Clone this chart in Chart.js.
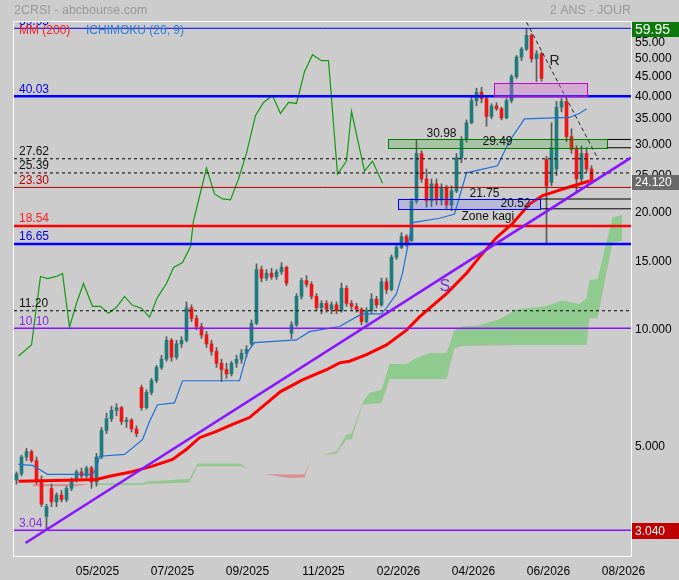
<!DOCTYPE html>
<html>
<head>
<meta charset="utf-8">
<script src="https://cdn.jsdelivr.net/npm/chart.js@4.4.1/dist/chart.umd.min.js"></script>
<style>
html, body { margin: 0; padding: 0; background: #cccccc; }
#wrap { width: 679px; height: 580px; position: relative; }
</style>
</head>
<body>
<div id="wrap"><canvas id="chart"></canvas></div>
<script>
// 2CRSI - 2 ans, bougies journalieres (x = numero de seance)
const monthDay = [16.2, 31.2, 46.2, 61.4, 76.4, 91.4, 106.4, 121.4];
const monthLabel = ['05/2025', '07/2025', '09/2025', '11/2025', '02/2026', '04/2026', '06/2026', '08/2026'];

const opens = [
  4.10, 4.25, 4.70, 4.85, 4.60, 4.10, 3.30, 3.90, 3.60, 3.75,
  3.65, 3.90, 4.10, 4.30, 4.20, 4.40, 4.05, 4.70, 5.50, 5.90,
  6.20, 6.30, 5.80, 5.85, 5.55, 7.10, 6.30, 6.90, 7.40, 8.00,
  8.40, 9.40, 8.50, 9.20, 9.40, 11.40, 10.70, 10.20, 9.70, 9.20,
  8.80, 8.20, 7.90, 7.70, 8.20, 8.40, 8.70, 9.20, 10.40, 14.30,
  13.60, 14.00, 13.70, 14.10, 14.50, 9.80, 10.30, 12.20, 13.40, 13.10,
  12.20, 11.40, 11.70, 11.30, 11.60, 11.20, 12.80, 11.70, 11.50, 11.30,
  10.50, 11.20, 12.00, 11.60, 13.30, 12.70, 15.40, 16.30, 17.40, 17.00,
  21.50, 28.50, 24.50, 21.50, 23.80, 21.60, 23.20, 21.00, 22.80, 27.80,
  31.00, 34.20, 39.00, 41.00, 39.50, 35.50, 37.80, 37.20, 35.20, 39.00,
  45.00, 50.50, 53.00, 57.50, 50.00, 51.50, 27.50, 24.00, 26.00, 37.50,
  38.80, 31.50, 29.20, 24.50, 28.50, 26.00
];
const highs = [
  4.30, 4.75, 4.95, 4.90, 4.70, 4.20, 3.55, 4.00, 3.80, 3.85,
  3.95, 4.15, 4.35, 4.40, 4.45, 4.45, 4.80, 5.60, 6.10, 6.35,
  6.45, 6.35, 5.95, 5.90, 5.65, 7.20, 7.00, 7.50, 8.10, 8.60,
  9.60, 9.50, 9.40, 9.60, 11.80, 11.60, 10.90, 10.40, 9.90, 9.40,
  9.00, 8.40, 8.20, 8.30, 8.60, 8.90, 9.10, 10.60, 14.80, 14.60,
  14.30, 14.40, 14.30, 14.90, 14.60, 10.50, 12.40, 13.60, 13.80, 13.30,
  12.40, 11.90, 11.90, 11.80, 11.80, 13.20, 13.00, 11.90, 11.70, 11.40,
  11.40, 12.40, 12.20, 13.60, 13.60, 15.60, 16.50, 17.80, 17.60, 21.80,
  30.98, 29.00, 26.00, 24.50, 24.50, 23.80, 23.60, 23.50, 28.50, 31.50,
  34.80, 40.00, 42.00, 42.20, 40.00, 38.30, 38.50, 37.50, 39.50, 45.50,
  51.00, 53.50, 59.95, 58.00, 52.50, 52.00, 28.00, 34.20, 38.80, 39.50,
  39.20, 33.00, 29.80, 29.80, 29.50, 26.50
];
const lows = [
  4.00, 4.20, 4.60, 4.55, 4.00, 3.50, 3.04, 3.50, 3.50, 3.60,
  3.60, 3.85, 4.05, 4.15, 4.15, 3.90, 3.95, 4.65, 5.40, 5.80,
  6.00, 5.70, 5.60, 5.45, 5.30, 6.20, 6.25, 6.80, 7.30, 7.90,
  8.30, 8.30, 8.40, 9.00, 9.30, 10.50, 10.00, 9.50, 9.00, 8.60,
  8.00, 7.35, 7.50, 7.60, 8.00, 8.20, 8.50, 9.10, 10.30, 13.30,
  13.40, 13.50, 13.50, 13.90, 13.00, 9.50, 10.20, 12.00, 12.90, 12.00,
  11.20, 11.00, 11.10, 11.00, 11.00, 11.10, 11.50, 11.30, 11.10, 10.30,
  10.40, 11.00, 11.40, 11.50, 12.40, 12.60, 15.20, 16.20, 16.40, 16.90,
  21.20, 24.00, 20.70, 20.80, 21.00, 21.00, 20.40, 20.30, 22.60, 27.00,
  30.50, 34.00, 37.80, 38.50, 33.50, 35.00, 36.80, 34.80, 35.00, 38.50,
  44.50, 49.50, 52.50, 49.00, 43.70, 43.80, 16.65, 23.50, 25.00, 36.50,
  30.60, 28.50, 22.60, 24.00, 25.50, 23.80
];
const closes = [
  4.25, 4.70, 4.85, 4.60, 4.10, 3.55, 3.50, 3.60, 3.75, 3.65,
  3.90, 4.10, 4.30, 4.20, 4.40, 4.05, 4.70, 5.50, 5.90, 6.20,
  6.30, 5.80, 5.85, 5.55, 5.40, 6.30, 6.90, 7.40, 8.00, 8.40,
  9.40, 8.50, 9.20, 9.40, 11.40, 10.70, 10.20, 9.70, 9.20, 8.80,
  8.20, 7.90, 7.70, 8.20, 8.40, 8.70, 8.90, 10.40, 14.30, 13.60,
  14.00, 13.70, 14.10, 14.50, 13.20, 10.30, 12.20, 13.40, 13.10, 12.20,
  11.40, 11.70, 11.30, 11.60, 11.20, 12.80, 11.70, 11.50, 11.30, 10.50,
  11.20, 12.00, 11.60, 13.30, 12.70, 15.40, 16.30, 17.40, 16.80, 21.50,
  28.50, 24.50, 21.50, 23.80, 21.60, 23.20, 21.00, 22.80, 27.80, 31.00,
  34.20, 39.00, 41.00, 39.50, 35.50, 37.80, 37.20, 35.20, 39.00, 45.00,
  50.50, 53.00, 57.50, 50.00, 51.50, 44.50, 23.50, 29.50, 37.50, 38.80,
  31.50, 29.20, 24.50, 28.50, 26.00, 24.12
];

// MM 200
const maDay = [0.4, 10, 16, 18.6, 22.6, 27.2, 31.2, 34, 36.6, 40, 43.2, 46.6, 52.8, 57.2, 62, 64.6, 66.6, 70, 74, 78, 80.6, 86, 90, 92.6, 96, 99.2, 102.6, 105.2, 108, 111.2, 114.6];
const maVal = [4.07, 4.09, 4.11, 4.19, 4.29, 4.45, 4.63, 4.92, 5.27, 5.47, 5.70, 5.94, 6.93, 7.43, 7.89, 8.22, 8.30, 8.63, 9.14, 9.98, 10.8, 12.4, 14.0, 15.4, 17.3, 18.8, 21.1, 22.2, 22.8, 23.5, 24.2];

// Ichimoku : kijun, chikou, nuage
const kijunDay = [0.4, 3.2, 4.6, 6.2, 15.2, 16, 16.6, 21.6, 25.2, 26.6, 28.2, 31.6, 33.2, 44.6, 45.2, 46.2, 47.6, 56, 58.6, 64.6, 68, 69.2, 73, 74, 76, 77.2, 78.2, 79.2, 84.6, 87.6, 90, 96.2, 98.6, 101.6, 110.6, 112.6, 114];
const kijunVal = [4.50, 4.47, 4.36, 4.24, 4.24, 4.40, 4.72, 4.77, 5.21, 5.80, 6.41, 6.48, 7.39, 7.39, 7.88, 8.76, 9.27, 9.42, 9.89, 10.2, 10.8, 11.0, 11.0, 11.4, 12.4, 14.0, 16.3, 18.9, 19.4, 19.9, 25.4, 26.5, 30.7, 35.0, 35.3, 36.2, 37.1];

const chikouDay = [0.4, 3.0, 4.8, 6.2, 8.0, 9.2, 10.6, 12.0, 13.4, 15.2, 16.8, 18.4, 20.0, 21.6, 23.2, 25.0, 26.6, 28.2, 30.0, 31.4, 33.2, 34.8, 35.4, 38.0, 39.6, 41.2, 42.8, 44.4, 46.0, 47.8, 49.4, 51.2, 52.8, 54.4, 56.0, 57.6, 59.2, 61.0, 62.4, 64.2, 66.0, 67.0, 69.6, 71.2, 73.2];
const chikouVal = [8.56, 9.14, 13.73, 13.56, 13.73, 13.98, 10.16, 11.71, 13.17, 11.50, 11.50, 11.03, 11.43, 12.20, 11.57, 11.37, 10.78, 12.13, 13.17, 14.48, 14.92, 16.39, 19.11, 26.13, 22.41, 21.76, 21.63, 24.49, 28.55, 35.73, 38.59, 40.22, 36.15, 38.59, 38.36, 46.34, 51.23, 49.45, 49.45, 25.22, 27.24, 36.59, 25.67, 27.24, 23.89];

const cloudDay = [3.2, 12, 14.6, 16.6, 25.2, 26, 34.6, 36.2, 44.6, 46.2, 49.6, 54.6, 57.6, 59, 61, 64, 66, 67, 69.2, 70.6, 73, 74.6, 78, 79.6, 82.6, 86, 87.6, 89.2, 92, 96.6, 100, 106, 109.2, 112.6, 114, 114.6, 116.2, 119.2, 121.2];
const spanA = [3.95, 3.95, 4.00, 4.02, 4.02, 4.06, 4.13, 4.52, 4.52, 4.40, 4.24, 4.15, 4.16, 4.69, 4.74, 4.86, 5.37, 5.40, 6.48, 6.88, 7.00, 8.16, 8.16, 8.41, 8.72, 8.72, 9.98, 10.21, 10.24, 10.65, 11.29, 11.52, 11.90, 11.65, 12.05, 13.43, 13.52, 19.46, 19.80];
const spanB = [4.00, 4.00, 4.00, 3.98, 3.98, 4.00, 4.04, 4.45, 4.45, 4.40, 4.24, 4.24, 4.24, 4.69, 4.74, 4.80, 5.21, 5.21, 6.41, 6.44, 6.48, 7.47, 7.47, 7.47, 7.47, 7.47, 8.97, 9.09, 9.10, 9.12, 9.14, 9.14, 9.14, 9.14, 9.14, 10.71, 10.71, 16.79, 16.97];

// niveaux horizontaux
const levelVal = [59.95, 40.03, 27.62, 25.39, 23.30, 18.54, 16.65, 11.20, 10.10, 3.04];
const levelText = ['59.95', '40.03', '27.62', '25.39', '23.30', '18.54', '16.65', '11.20', '10.10', '3.04'];

// zones (rectangles)
const zoneStart = [74.2, 95.4, 76.2];
const zoneEnd = [118, 114, 104.8];
const zoneLow = [29.49, 40.03, 20.52];
const zoneHigh = [30.98, 43.2, 21.75];

// droites de tendance
const supportDay = [1.8, 122.9];
const supportVal = [2.82, 27.8];
const resistDay = [102, 116.2];
const resistVal = [62.2, 27.75];

// textes poses sur le graphique
const noteText = ['30.98', '29.49', '21.75', '20.52', 'Zone kagi', 'S', 'R'];
const noteDay = [82, 93.2, 90.6, 96.8, 89, 84.6, 106.6];
const noteVal = [31.44, 29.98, 22.01, 20.74, 19.20, 12.59, 48.22];

// axe de droite
const axisTicks = [5, 10, 15, 20, 25, 30, 35, 40, 45, 50, 55];
const axisLabels = ['5.000', '10.000', '15.000', '20.000', '25.000', '30.000', '35.000', '40.000', '45.000', '50.000', '55.00'];
const tagVal = [59.95, 24.12, 3.04];
const tagText = ['59.95', '24.120', '3.040'];

// styles
const FONT = '"Liberation Sans", Arial, Helvetica, sans-serif';
const levelColor = ['#0000ee', '#0000ff', '#000000', '#000000', '#b00000', '#ff0000', '#0000ff', '#000000', '#8a10ff', '#8a10ff'];
const levelWidth = [1, 2.5, 1, 1, 1, 2.5, 2.5, 1, 1.5, 1.5];
const levelDash = [[], [], [3, 3], [3, 3], [], [], [], [3, 3], [], []];
const levelLabelColor = ['#0000ee', '#0000ee', '#111111', '#111111', '#c00000', '#ff2020', '#0000ee', '#111111', '#8a2be2', '#8a2be2'];
const zoneFill = ['rgba(0,160,0,0.18)', 'rgba(225,100,225,0.32)', 'rgba(100,100,255,0.2)'];
const zoneEdge = ['#007a00', '#cc00cc', '#0000ff'];
const zoneExtend = [true, false, true];
const noteColor = ['#111', '#111', '#111', '#111', '#111', '#7a30d6', '#222'];
const noteSize = [12, 12, 12, 12, 12, 16, 14];
const tagBg = ['#0b7a0b', '#6a6a6a', '#c00000'];
const tagSize = [14, 12, 12];
const tagHeight = [15, 15, 16];

const xMin = -0.5, xMax = 122.9;

Chart.defaults.font.family = FONT;
Chart.defaults.font.size = 12;
Chart.defaults.color = '#000';

function pts(xs, ys) { return xs.map((d, i) => ({ x: d, y: ys[i] })); }
function flat(v, a, b) { return [{ x: a, y: v }, { x: b, y: v }]; }
function line(data, color, width, order, dash) {
  return { type: 'line', data, borderColor: color, borderWidth: width, borderDash: dash || [],
    pointRadius: 0, tension: 0, fill: false, order };
}

const datasets = [];
// nuage (rempli entre les deux spans)
datasets.push({ type: 'line', data: pts(cloudDay, spanA), borderColor: 'transparent', borderWidth: 0,
  pointRadius: 0, tension: 0, fill: { target: '+1', above: '#8fca8f', below: '#dd8e8e' }, order: 20 });
datasets.push({ type: 'line', data: pts(cloudDay, spanB), borderColor: 'transparent', borderWidth: 0,
  pointRadius: 0, tension: 0, fill: false, order: 20 });
// bougies : meches puis corps
datasets.push({ type: 'bar', data: highs.map((h, i) => ({ x: i, y: [lows[i], h] })),
  backgroundColor: '#5a5a5a', barThickness: 1, grouped: false, order: 12 });
datasets.push({ type: 'bar', data: opens.map((o, i) => ({ x: i, y: [o, closes[i]] })),
  backgroundColor: opens.map((o, i) => closes[i] >= o ? '#1e7b7b' : '#f01515'),
  barThickness: 3, grouped: false, order: 11 });
datasets.push(line(pts(kijunDay, kijunVal), '#1f6fd6', 1.2, 6));
datasets.push(line(pts(chikouDay, chikouVal), '#129a12', 1.2, 6));
datasets.push(line(pts(maDay, maVal), '#ff0000', 3, 5));
levelVal.forEach((v, i) => datasets.push(line(flat(v, xMin, xMax), levelColor[i], levelWidth[i], 4, levelDash[i])));
zoneLow.forEach((lo, i) => {
  if (!zoneExtend[i]) return;
  datasets.push(line(flat(lo, zoneEnd[i], xMax), '#000', 1, 4));
  datasets.push(line(flat(zoneHigh[i], zoneEnd[i], xMax), '#000', 1, 4));
});
datasets.push(line(pts(supportDay, supportVal), '#8a14ff', 2.5, 3));
datasets.push(line(pts(resistDay, resistVal), '#222', 1, 3, [4, 3]));

const overlay = {
  id: 'overlay',
  afterDatasetsDraw(chart) {
    const { ctx, chartArea: a, scales: { x, y } } = chart;
    ctx.save();
    ctx.beginPath();
    ctx.rect(a.left, a.top, a.width, a.height);
    ctx.clip();
    zoneLow.forEach((lo, i) => {
      const x0 = Math.round(x.getPixelForValue(zoneStart[i]));
      const x1 = Math.round(x.getPixelForValue(zoneEnd[i]));
      const y0 = Math.round(y.getPixelForValue(zoneHigh[i]));
      const y1 = Math.round(y.getPixelForValue(lo));
      ctx.fillStyle = zoneFill[i];
      ctx.fillRect(x0, y0, x1 - x0, y1 - y0);
      ctx.strokeStyle = zoneEdge[i];
      ctx.lineWidth = 1;
      ctx.strokeRect(x0 + 0.5, y0 + 0.5, x1 - x0, y1 - y0);
    });
    ctx.restore();
  },
  afterDraw(chart) {
    const { ctx, chartArea: a, scales: { x, y } } = chart;
    ctx.save();
    // cadre blanc
    ctx.strokeStyle = '#ffffff';
    ctx.lineWidth = 1;
    ctx.strokeRect(a.left - 0.5, a.top - 0.5, a.width + 1, a.height + 1);

    // etiquettes des niveaux (coupees au cadre)
    ctx.save();
    ctx.beginPath();
    ctx.rect(a.left, a.top, a.width, a.height);
    ctx.clip();
    ctx.textBaseline = 'alphabetic';
    ctx.textAlign = 'left';
    ctx.font = '12px ' + FONT;
    levelVal.forEach((v, i) => {
      ctx.fillStyle = levelLabelColor[i];
      ctx.fillText(levelText[i], a.left + 5, y.getPixelForValue(v) - 3.5);
    });
    noteText.forEach((t, i) => {
      ctx.fillStyle = noteColor[i];
      ctx.font = noteSize[i] + 'px ' + FONT;
      ctx.fillText(t, x.getPixelForValue(noteDay[i]), y.getPixelForValue(noteVal[i]));
    });
    ctx.restore();

    // titre et legende
    ctx.font = '12.5px ' + FONT;
    ctx.fillStyle = '#999999';
    ctx.textAlign = 'left';
    ctx.fillText('2CRSI - abcbourse.com', 14, 14);
    ctx.textAlign = 'right';
    ctx.fillText('2 ANS - JOUR', a.right, 14);
    ctx.textAlign = 'left';
    ctx.font = '12px ' + FONT;
    ctx.fillStyle = '#ff1a1a';
    ctx.fillText('MM (200)', a.left + 5, 34);
    ctx.fillStyle = '#2f7fd8';
    ctx.fillText('ICHIMOKU (26, 9)', a.left + 72, 34);

    // etiquettes encadrees sur l'axe de droite
    ctx.textBaseline = 'middle';
    tagVal.forEach((v, i) => {
      const cy = y.getPixelForValue(v) + 1;
      const h = tagHeight[i];
      ctx.fillStyle = tagBg[i];
      ctx.fillRect(a.right + 1, Math.round(cy - h / 2), chart.width - a.right - 1, h);
      ctx.fillStyle = '#ffffff';
      ctx.font = tagSize[i] + 'px ' + FONT;
      ctx.fillText(tagText[i], a.right + 4, cy + 0.5);
    });
    ctx.restore();
  }
};

new Chart(document.getElementById('chart'), {
  type: 'bar',
  data: { datasets },
  options: {
    responsive: true,
    maintainAspectRatio: false,
    animation: false,
    events: [],
    layout: { padding: { left: 14, top: 22, right: 0, bottom: 0 } },
    plugins: { legend: { display: false }, tooltip: { enabled: false } },
    scales: {
      x: {
        type: 'linear',
        min: xMin,
        max: xMax,
        offset: false,
        bounds: 'data',
        grid: { display: false, drawTicks: false },
        border: { display: false },
        afterBuildTicks: s => { s.ticks = monthDay.map(v => ({ value: v })); },
        afterFit: s => { s.height = 24; },
        ticks: {
          autoSkip: false,
          maxRotation: 0,
          padding: 8,
          color: '#000',
          font: { size: 12 },
          callback: (v, i) => monthLabel[i]
        }
      },
      y: {
        type: 'logarithmic',
        position: 'right',
        min: 2.61,
        max: 62.23,
        bounds: 'data',
        grid: { display: false, drawTicks: false },
        border: { display: false },
        afterBuildTicks: s => { s.ticks = axisTicks.map(v => ({ value: v })); },
        afterFit: s => { s.width = 48; },
        ticks: {
          autoSkip: false,
          padding: 4,
          color: '#000',
          font: { size: 12 },
          callback: (v, i) => axisLabels[i]
        }
      }
    }
  },
  plugins: [overlay]
});
</script>
</body>
</html>
